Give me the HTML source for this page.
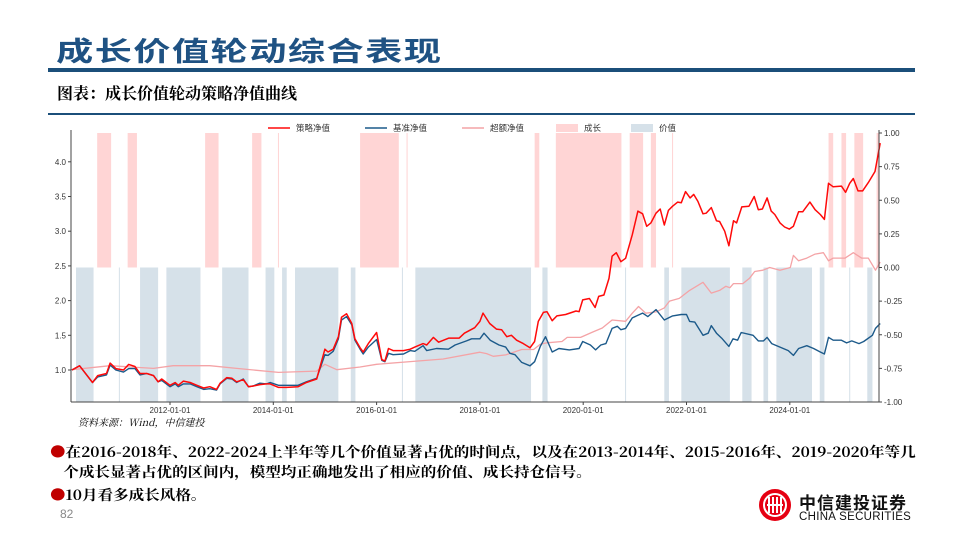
<!DOCTYPE html>
<html><head><meta charset="utf-8">
<style>
body{margin:0;width:960px;height:540px;background:#fff;overflow:hidden;position:relative;font-family:"Liberation Sans","Noto Sans CJK SC",sans-serif}
.abs{position:absolute}
</style></head><body>
<div class="abs" style="left:56px;top:30px;font-size:27px;color:#1f5283;font-family:'Noto Sans CJK SC',sans-serif;font-weight:bold;letter-spacing:1px;line-height:40px;transform:scaleX(1.38);transform-origin:left top;white-space:nowrap">成长价值轮动综合表现</div>
<div class="abs" style="left:48px;top:68px;width:867px;height:4px;background:#1b4f7a"></div>
<div class="abs" style="left:57px;top:81px;font-size:16px;font-weight:bold;color:#000;font-family:'Noto Serif CJK SC',serif;white-space:nowrap">图表：成长价值轮动策略净值曲线</div>
<div class="abs" style="left:48px;top:113px;width:867px;height:2px;background:#1b4f7a"></div>
<svg class="abs" style="left:0;top:0" width="960" height="540" id="chart"></svg>
<div class="abs" style="left:78px;top:414px;font-size:10px;font-style:italic;color:#000;font-family:'Noto Serif CJK SC',serif">资料来源：Wind，中信建投</div>
<div class="abs" style="left:50px;top:442px;font-size:14px;font-weight:bold;line-height:20px;font-family:'Noto Serif CJK SC',serif;white-space:nowrap;transform:scaleX(1.11);transform-origin:left top"><span style="color:#c00000">●</span>在2016-2018年、2022-2024上半年等几个价值显著占优的时间点，以及在2013-2014年、2015-2016年、2019-2020年等几<br><span style="padding-left:12px"></span>个成长显著占优的区间内，模型均正确地发出了相应的价值、成长持仓信号。</div>
<div class="abs" style="left:50px;top:485px;font-size:14px;font-weight:bold;font-family:'Noto Serif CJK SC',serif;white-space:nowrap;transform:scaleX(1.11);transform-origin:left top"><span style="color:#c00000">●</span>10月看多成长风格。</div>
<div class="abs" style="left:60px;top:507px;font-size:12px;color:#888">82</div>
<svg class="abs" style="left:758px;top:488px" width="34" height="34">
<circle cx="17" cy="17" r="16" fill="#e60012"/><circle cx="17" cy="17" r="11" fill="none" stroke="#fff" stroke-width="2"/>
<path d="M11 9v16M15 9v16M19 9v16M23 9v16M9 17h16" stroke="#fff" stroke-width="2"/></svg>
<div class="abs" style="left:799px;top:489px;font-size:17px;font-weight:bold;color:#111;letter-spacing:1px">中信建投证券</div>
<div class="abs" style="left:799px;top:511px;font-size:11.5px;color:#111;letter-spacing:0.3px">CHINA SECURITIES</div>
<script>
const growthPeriods=[[2010.59,2010.86],[2011.18,2011.36],[2012.68,2012.94],[2013.59,2013.77],[2014.09,2014.11],[2015.68,2016.43],[2016.58,2016.6],[2019.06,2019.15],[2019.47,2020.74],[2020.9,2021.16],[2021.31,2021.41],[2021.72,2021.74],[2024.75,2024.84],[2025.0,2025.09],[2025.25,2025.42],[2025.68,2025.73]];
const valuePeriods=[[2010.18,2010.52],[2011.01,2011.03],[2011.42,2011.77],[2011.93,2012.59],[2013.01,2013.52],[2013.85,2014.02],[2014.17,2014.26],[2014.42,2015.26],[2015.5,2015.59],[2016.49,2016.51],[2016.75,2018.99],[2019.21,2019.31],[2020.81,2020.83],[2021.57,2021.66],[2021.9,2022.84],[2023.08,2023.26],[2023.49,2023.58],[2023.74,2024.43],[2024.58,2024.67],[2025.15,2025.17],[2025.5,2025.6]];
const benchDates=[2010.1,2010.25,2010.5,2010.6,2010.77,2010.84,2010.95,2011.1,2011.2,2011.32,2011.42,2011.55,2011.68,2011.77,2011.84,2012.0,2012.1,2012.16,2012.26,2012.39,2012.52,2012.65,2012.77,2012.9,2012.97,2013.1,2013.2,2013.29,2013.42,2013.52,2013.61,2013.74,2013.87,2013.94,2014.1,2014.26,2014.48,2014.64,2014.84,2015.0,2015.06,2015.16,2015.26,2015.32,2015.42,2015.52,2015.58,2015.68,2015.74,2015.84,2016.0,2016.1,2016.16,2016.23,2016.32,2016.52,2016.65,2016.74,2016.9,2016.97,2017.16,2017.39,2017.52,2017.74,2017.84,2018.0,2018.08,2018.2,2018.37,2018.5,2018.58,2018.68,2018.81,2018.97,2019.06,2019.17,2019.27,2019.4,2019.53,2019.73,2019.92,2019.99,2020.14,2020.24,2020.34,2020.44,2020.56,2020.66,2020.73,2020.82,2020.95,2021.15,2021.25,2021.41,2021.57,2021.73,2021.9,2022.0,2022.06,2022.16,2022.32,2022.42,2022.48,2022.58,2022.68,2022.82,2022.9,2022.99,2023.06,2023.29,2023.39,2023.49,2023.56,2023.65,2023.81,2023.97,2024.07,2024.17,2024.33,2024.46,2024.59,2024.67,2024.75,2024.84,2025.0,2025.1,2025.2,2025.34,2025.43,2025.6,2025.66,2025.75];
const benchValues=[1.0,1.06,0.82,0.9,0.93,1.07,1.0,0.97,1.02,1.02,0.93,0.95,0.92,0.83,0.85,0.76,0.8,0.76,0.8,0.8,0.76,0.72,0.73,0.71,0.8,0.88,0.87,0.82,0.87,0.76,0.77,0.81,0.8,0.82,0.78,0.78,0.78,0.83,0.88,1.22,1.21,1.27,1.45,1.72,1.77,1.65,1.43,1.3,1.23,1.33,1.44,1.14,1.12,1.24,1.22,1.23,1.28,1.27,1.35,1.28,1.31,1.3,1.36,1.42,1.45,1.45,1.53,1.43,1.36,1.33,1.24,1.22,1.11,1.06,1.12,1.34,1.48,1.26,1.31,1.29,1.31,1.41,1.36,1.29,1.36,1.38,1.6,1.63,1.58,1.6,1.75,1.82,1.77,1.87,1.72,1.78,1.8,1.8,1.7,1.69,1.5,1.53,1.64,1.53,1.46,1.34,1.45,1.43,1.54,1.5,1.42,1.42,1.47,1.38,1.33,1.28,1.21,1.31,1.35,1.31,1.26,1.23,1.47,1.43,1.43,1.39,1.42,1.38,1.41,1.5,1.6,1.67];
const stratDates=[2010.1,2010.25,2010.5,2010.6,2010.77,2010.84,2010.95,2011.1,2011.2,2011.32,2011.42,2011.55,2011.68,2011.77,2011.84,2012.0,2012.1,2012.16,2012.26,2012.39,2012.52,2012.65,2012.77,2012.9,2012.97,2013.1,2013.2,2013.29,2013.42,2013.52,2013.61,2013.74,2013.87,2013.94,2014.1,2014.26,2014.48,2014.64,2014.84,2015.0,2015.06,2015.16,2015.26,2015.32,2015.42,2015.52,2015.58,2015.68,2015.74,2015.84,2016.0,2016.1,2016.16,2016.23,2016.32,2016.52,2016.65,2016.74,2016.9,2016.97,2017.1,2017.2,2017.4,2017.6,2017.7,2017.9,2018.0,2018.06,2018.19,2018.32,2018.42,2018.52,2018.61,2018.71,2018.84,2018.97,2019.06,2019.13,2019.23,2019.3,2019.4,2019.49,2019.66,2019.86,2019.92,2019.99,2020.12,2020.23,2020.3,2020.4,2020.5,2020.56,2020.64,2020.73,2020.82,2020.95,2021.06,2021.15,2021.23,2021.31,2021.41,2021.49,2021.57,2021.65,2021.73,2021.83,2021.9,2021.98,2022.07,2022.14,2022.22,2022.32,2022.38,2022.48,2022.58,2022.64,2022.74,2022.82,2022.91,2022.97,2023.07,2023.21,2023.31,2023.39,2023.47,2023.56,2023.64,2023.71,2023.81,2023.9,2023.99,2024.07,2024.17,2024.25,2024.39,2024.49,2024.59,2024.67,2024.75,2024.84,2025.0,2025.08,2025.16,2025.23,2025.32,2025.41,2025.52,2025.65,2025.75];
const stratValues=[1.0,1.06,0.82,0.92,0.95,1.1,1.02,1.0,1.08,1.05,0.95,0.95,0.92,0.83,0.87,0.78,0.82,0.78,0.84,0.82,0.78,0.74,0.76,0.72,0.81,0.89,0.88,0.83,0.86,0.76,0.77,0.79,0.8,0.8,0.75,0.75,0.76,0.82,0.87,1.3,1.26,1.3,1.48,1.76,1.81,1.67,1.45,1.32,1.26,1.38,1.54,1.15,1.13,1.31,1.28,1.28,1.3,1.33,1.38,1.36,1.47,1.4,1.46,1.46,1.53,1.61,1.7,1.82,1.67,1.59,1.58,1.48,1.5,1.43,1.38,1.32,1.41,1.7,1.83,1.84,1.71,1.78,1.8,1.85,1.84,2.01,2.03,1.9,2.06,2.08,2.32,2.64,2.69,2.56,2.61,2.95,3.29,3.25,3.07,3.12,3.26,3.32,3.09,3.3,3.36,3.42,3.41,3.57,3.48,3.53,3.43,3.25,3.26,3.34,3.15,3.14,3.0,2.79,3.15,3.12,3.35,3.36,3.5,3.31,3.32,3.48,3.29,3.24,3.12,3.06,3.03,3.07,3.28,3.28,3.42,3.31,3.24,3.17,3.69,3.64,3.65,3.56,3.69,3.76,3.58,3.58,3.7,3.86,4.27];
const excessDates=[2010.1,2010.84,2011.68,2012.06,2012.77,2013.29,2014.1,2014.84,2015.0,2015.23,2015.68,2016.0,2016.65,2017.29,2018.0,2018.13,2018.26,2018.5,2018.81,2019.04,2019.17,2019.3,2019.59,2019.69,2019.95,2020.18,2020.37,2020.56,2020.82,2020.95,2021.07,2021.21,2021.41,2021.57,2021.67,2021.86,2022.06,2022.32,2022.48,2022.64,2022.76,2022.84,2022.91,2023.09,2023.22,2023.32,2023.48,2023.61,2023.81,2024.01,2024.07,2024.17,2024.33,2024.49,2024.65,2024.75,2024.84,2025.07,2025.23,2025.39,2025.52,2025.66,2025.75];
const excessValues=[-0.76,-0.73,-0.75,-0.73,-0.73,-0.75,-0.78,-0.77,-0.72,-0.76,-0.74,-0.72,-0.7,-0.68,-0.63,-0.64,-0.66,-0.65,-0.61,-0.61,-0.57,-0.56,-0.55,-0.52,-0.52,-0.48,-0.45,-0.39,-0.4,-0.34,-0.29,-0.34,-0.33,-0.3,-0.25,-0.23,-0.17,-0.11,-0.19,-0.17,-0.14,-0.15,-0.12,-0.12,-0.08,-0.03,-0.02,0.0,-0.02,0.0,0.09,0.05,0.07,0.1,0.11,0.05,0.07,0.07,0.11,0.07,0.07,-0.02,0.04];
const leftTicks=[1.0,1.5,2.0,2.5,3.0,3.5,4.0];
const rightTicks=[-1.0,-0.75,-0.5,-0.25,0.0,0.25,0.5,0.75,1.0];
const xTickYears=[2012,2014,2016,2018,2020,2022,2024];

const X0=71,X1=879,Y0=133,Y1=402;
const xs=y=>170+(y-2012)*51.65;
const yl=v=>370-(v-1)*69.4;
const yr=v=>267.5-v*134.5;
const svg=document.getElementById('chart');
const NS='http://www.w3.org/2000/svg';
function mk(tag,attrs,parent){const e=document.createElementNS(NS,tag);for(const k in attrs)e.setAttribute(k,attrs[k]);(parent||svg).appendChild(e);return e;}

growthPeriods.forEach(p=>{
  const r=mk('rect',{x:xs(p[0]),y:Y0,width:Math.max(1,xs(p[1])-xs(p[0])),height:yr(0)-Y0,fill:'#ffd5d5'});
  
  
});
valuePeriods.forEach(p=>{
  const r=mk('rect',{x:xs(p[0]),y:yr(0),width:Math.max(1,xs(p[1])-xs(p[0])),height:Y1-yr(0),fill:'#d6e1e9'});
  
  
});
function line(dates,vals,fy,color,w,name){
  const d=dates.map((t,i)=>(i?'L':'M')+xs(t).toFixed(1)+' '+fy(vals[i]).toFixed(1)).join('');
  const p=mk('path',{d:d,fill:'none',stroke:color,'stroke-width':w,'stroke-linejoin':'round'});
  
  
}
line(excessDates,excessValues,yr,'#f4a3a6',1.3,'excess-net-value-line');
line(benchDates,benchValues,yl,'#1c5a8a',1.4,'benchmark-net-value-line');
line(stratDates,stratValues,yl,'#ff0a0a',1.5,'strategy-net-value-line');

mk('line',{x1:X0,y1:Y0-3,x2:X0,y2:Y1,stroke:'#444','stroke-width':1});
mk('line',{x1:X1,y1:Y0-3,x2:X1,y2:Y1,stroke:'#444','stroke-width':1});
mk('line',{x1:X0,y1:Y1,x2:X1,y2:Y1,stroke:'#444','stroke-width':1});
leftTicks.forEach(v=>{
  mk('line',{x1:X0-3,y1:yl(v),x2:X0,y2:yl(v),stroke:'#444'});
  const t=mk('text',{x:X0-5,y:yl(v)+3,'font-size':8,'text-anchor':'end',fill:'#333'});
  t.textContent=v.toFixed(1);
  
  
});
rightTicks.forEach(v=>{
  mk('line',{x1:X1,y1:yr(v),x2:X1+3,y2:yr(v),stroke:'#444'});
  const t=mk('text',{x:X1+5,y:yr(v)+3,'font-size':8,fill:'#333'});
  t.textContent=v.toFixed(2);
  
  
});
xTickYears.forEach(y=>{
  mk('line',{x1:xs(y),y1:Y1,x2:xs(y),y2:Y1+3,stroke:'#444'});
  const t=mk('text',{x:xs(y),y:Y1+11,'font-size':8,'text-anchor':'middle',fill:'#333'});
  t.textContent=y+'-01-01';
  
  
});
const legend=[['line','#ff0a0a','策略净值',268],['line','#1c5a8a','基准净值',365],['line','#f4a3a6','超额净值',462],['rect','#ffd5d5','成长',556],['rect','#d6e1e9','价值',631]];
legend.forEach(l=>{
  if(l[0]==='line')mk('line',{x1:l[3],y1:128,x2:l[3]+22,y2:128,stroke:l[1],'stroke-width':1.5});
  else mk('rect',{x:l[3],y:124,width:22,height:8,fill:l[1]});
  const t=mk('text',{x:l[3]+28,y:131,'font-size':8.5,fill:'#333'});
  t.textContent=l[2];
  
  
});
</script>
</body></html>
